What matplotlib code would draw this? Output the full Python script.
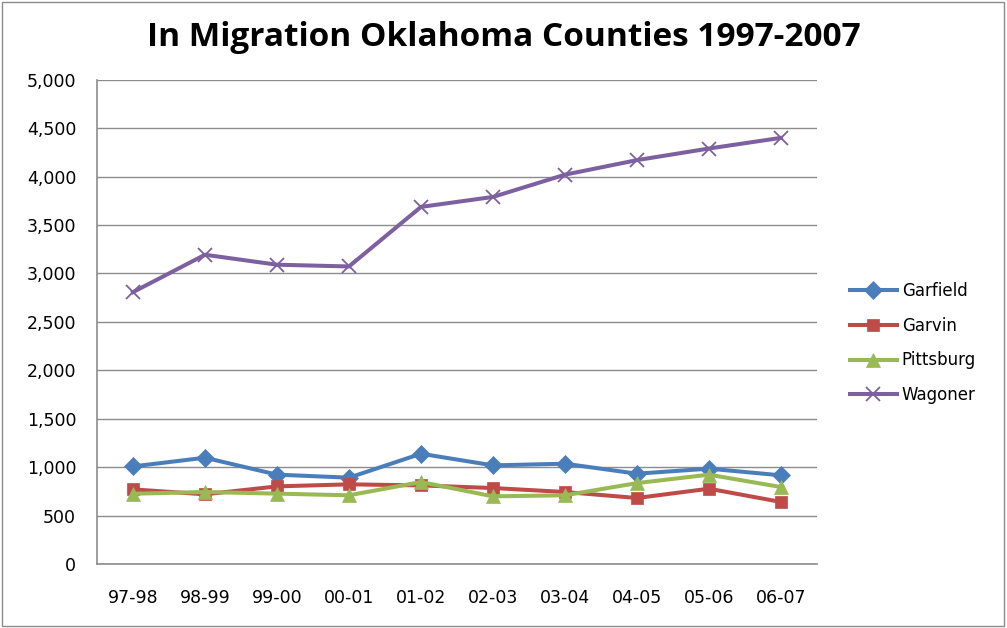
import matplotlib.pyplot as plt
from matplotlib.patches import Rectangle
from matplotlib.ticker import FuncFormatter

years = ['97-98', '98-99', '99-00', '00-01', '01-02', '02-03', '03-04', '04-05', '05-06', '06-07']
garfield = [1007, 1097, 922, 891, 1138, 1018, 1035, 932, 984, 915]
garvin = [770, 719, 801, 822, 811, 784, 743, 681, 777, 640]
pittsburg = [725, 743, 726, 709, 846, 698, 709, 835, 922, 794]
wagoner = [2807, 3193, 3090, 3072, 3687, 3790, 4020, 4170, 4290, 4400]

series = [
    ('Garfield', garfield, '#4A7EBB', 'D', 9),
    ('Garvin', garvin, '#BE4B48', 's', 9),
    ('Pittsburg', pittsburg, '#98B954', '^', 10),
    ('Wagoner', wagoner, '#7D60A0', 'x', 10),
]

plt.rcParams['font.family'] = ['DejaVu Sans']

fig = plt.figure(figsize=(10.07, 6.28), dpi=100)
ax = fig.add_axes([0.0963, 0.102, 0.715, 0.771])

x = range(len(years))
for name, vals, col, mk, ms in series:
    ax.plot(x, vals, color=col, lw=2.9, marker=mk, markersize=ms,
            markeredgewidth=1.3 if mk == 'x' else 0.5, markeredgecolor=col, label=name)

ax.set_ylim(0, 5000)
ax.set_xlim(-0.5, len(years) - 0.5)
ax.set_yticks(range(0, 5001, 500))
ax.yaxis.set_major_formatter(FuncFormatter(lambda v, p: f'{int(v):,}'))
ax.set_xticks(list(x))
ax.set_xticklabels(years)
ax.grid(axis='y', color='#8C8C8C', lw=1)
ax.set_axisbelow(True)
for s in ['top', 'right']:
    ax.spines[s].set_visible(False)
for s in ['left', 'bottom']:
    ax.spines[s].set_color('#8C8C8C')
    ax.spines[s].set_linewidth(1.2)
ax.tick_params(length=0, labelsize=12.5, colors='black')
ax.tick_params(axis='x', pad=18)
ax.tick_params(axis='y', pad=15)

# title centred on the whole figure, like the Excel chart
fig.text(0.5, 0.94, 'In Migration Oklahoma Counties 1997-2007', fontsize=24,
         fontweight='bold', ha='center', va='center', family=['Open Sans', 'DejaVu Sans'])

leg = ax.legend(loc='center left', bbox_to_anchor=(1.025, 0.456), frameon=False,
                fontsize=12, handlelength=2.8, handletextpad=0.3, labelspacing=1.0)

fig.patches.append(Rectangle((0.002, 0.003), 0.995, 0.994, transform=fig.transFigure,
                             fill=False, edgecolor='#8C8C8C', lw=1))

fig.savefig('out.png', dpi=100)
